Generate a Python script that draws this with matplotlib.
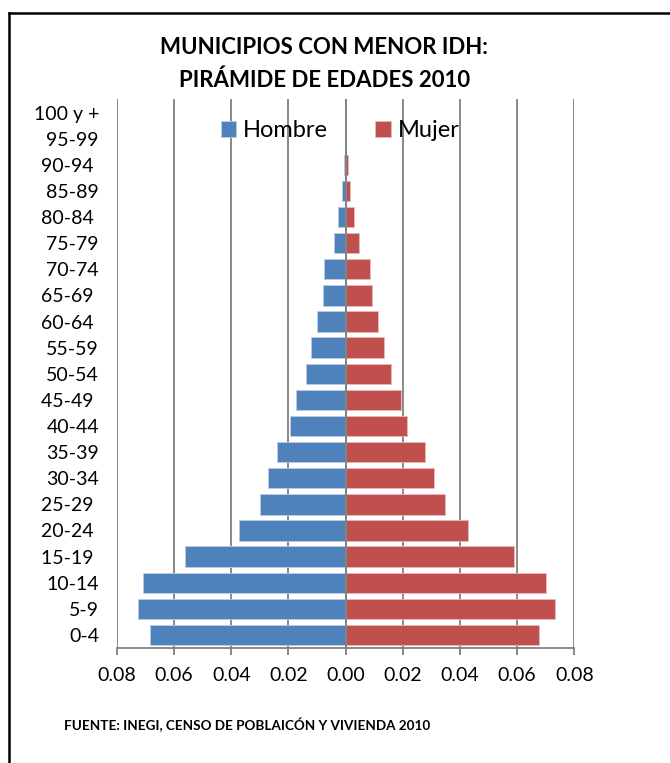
import matplotlib
matplotlib.use('Agg')
import matplotlib.pyplot as plt
from matplotlib.lines import Line2D
from matplotlib.ticker import FuncFormatter
import numpy as np

plt.rcParams['font.family'] = ['Lato', 'DejaVu Sans']

# Age groups (bottom to top) and population shares
edades = ["0-4", "5-9", "10-14", "15-19 ", "20-24 ", "25-29 ", "30-34", "35-39",
          "40-44", "45-49 ", "50-54", "55-59", "60-64 ", "65-69 ", "70-74",
          "75-79", "80-84 ", "85-89", "90-94 ", "95-99", "100 y +"]
hombre = [0.0683, 0.0728, 0.0709, 0.0563, 0.0374, 0.0298, 0.0270, 0.0240,
          0.0193, 0.0173, 0.0139, 0.0121, 0.0099, 0.0078, 0.0076,
          0.0042, 0.0026, 0.0013, 0.0006, 0.0001, 0.0001]
mujer = [0.0676, 0.0733, 0.0701, 0.0589, 0.0428, 0.0349, 0.0310, 0.0277,
         0.0216, 0.0194, 0.0157, 0.0135, 0.0112, 0.0091, 0.0084,
         0.0048, 0.0030, 0.0016, 0.0008, 0.0002, 0.0001]

azul = '#4F81BD'
rojo = '#C0504D'
gris = '#808080'

fig = plt.figure(figsize=(6.70, 7.63), dpi=100)
ax = fig.add_axes([0.1746, 0.1507, 0.6826, 0.7189])

y = np.arange(len(edades))
ax.barh(y, -np.array(hombre), height=0.78, color=azul, edgecolor='#B9CDE5',
        linewidth=0.6, label='Hombre', zorder=2)
ax.barh(y, mujer, height=0.78, color=rojo, edgecolor='#E6B9B8',
        linewidth=0.6, label='Mujer', zorder=2)

ax.set_xlim(-0.08, 0.08)
ax.set_ylim(-0.5, len(edades) - 0.5)
ax.set_xticks(np.arange(-0.08, 0.081, 0.02))
ax.xaxis.set_major_formatter(FuncFormatter(lambda v, p: '%.2f' % abs(v)))
ax.set_yticks(y)
ax.set_yticklabels(edades)

ax.grid(axis='x', color=gris, linewidth=1.3, zorder=0)
ax.axvline(0, color=gris, linewidth=1.3, zorder=3)
for s in ['left', 'right', 'top']:
    ax.spines[s].set_visible(False)
ax.spines['bottom'].set_color(gris)
ax.spines['bottom'].set_linewidth(1.3)

ax.tick_params(axis='x', labelsize=14, length=5, width=1.3, color=gris, pad=9)
ax.tick_params(axis='y', labelsize=14, length=0, pad=13)

ax.legend(ncol=2, loc='center', bbox_to_anchor=(0.488, 0.9426), frameon=False,
          fontsize=17, handlelength=0.65, handleheight=0.7, handletextpad=0.3,
          columnspacing=2.0, borderpad=0)

fig.text(0.484, 1 - 48 / 763, 'MUNICIPIOS CON MENOR IDH:', ha='center', va='center',
         fontsize=16, fontweight='bold')
fig.text(0.484, 1 - 80 / 763, 'PIRÁMIDE DE EDADES 2010', ha='center', va='center',
         fontsize=16, fontweight='bold')
fig.text(64 / 670, 1 - 725 / 763, 'FUENTE: INEGI, CENSO DE POBLAICÓN Y VIVIENDA 2010',
         ha='left', va='center', fontsize=9.7, fontweight='bold')

# outer frame (left and top edges only)
fig.add_artist(Line2D([9 / 670, 9 / 670], [0, 1 - 12.5 / 763], color='black', linewidth=1.8))
fig.add_artist(Line2D([9 / 670, 1], [1 - 12.5 / 763, 1 - 12.5 / 763], color='black', linewidth=1.8))

fig.savefig('out.png', dpi=100)
